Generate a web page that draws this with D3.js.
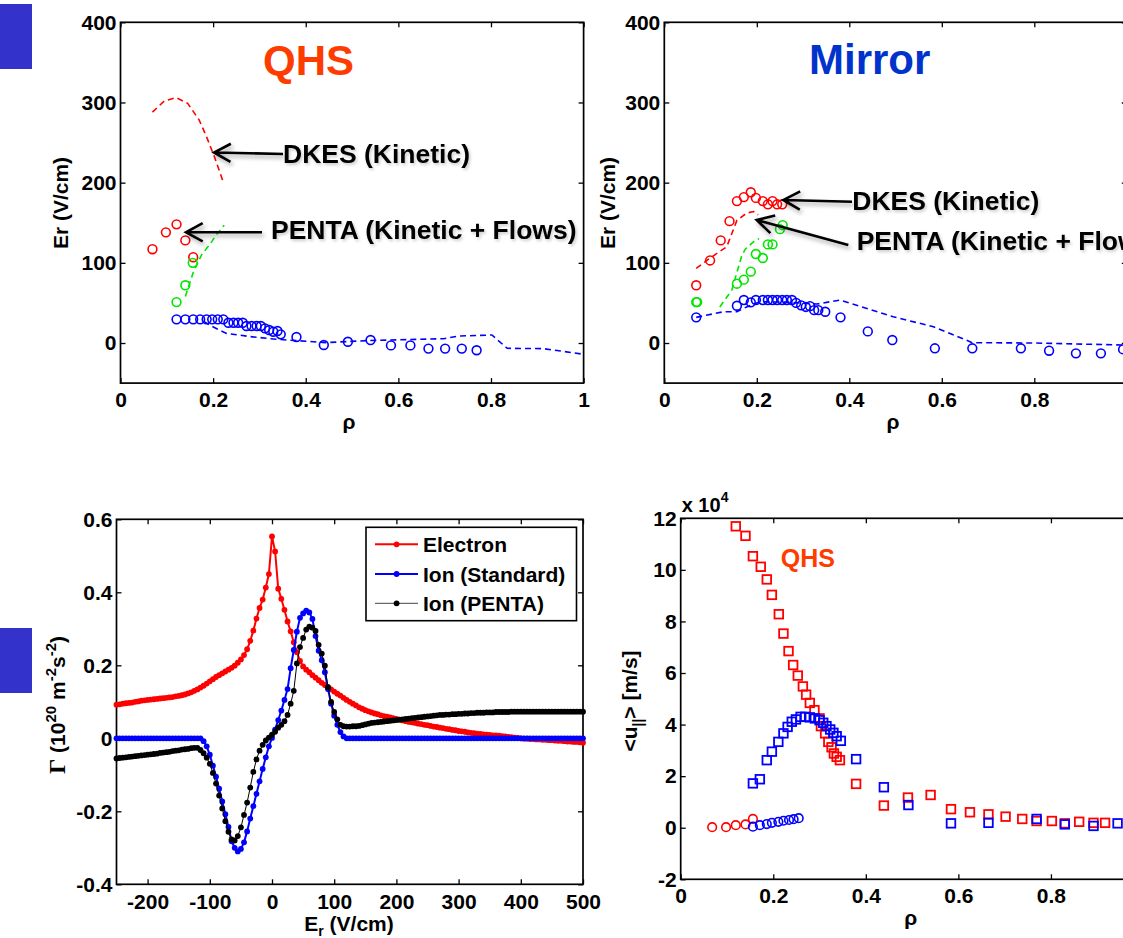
<!DOCTYPE html>
<html><head><meta charset="utf-8">
<script src="https://cdn.jsdelivr.net/npm/d3@7"></script>
<style>body{margin:0;background:#fff;} svg{display:block;}</style>
</head><body><svg id="c" width="1123" height="938"></svg>
<script>
// ---------------- Panel 1: QHS  Er vs rho ----------------
const qhsDkesRho = [0.069, 0.095, 0.120, 0.145, 0.170, 0.186, 0.203, 0.223];
const qhsDkesEr  = [288, 302, 306, 299, 278, 257, 232, 199];
const qhsRedRho = [0.069, 0.098, 0.121, 0.140, 0.157];
const qhsRedEr  = [117, 138, 148, 128, 107];
const qhsGreenRho = [0.121, 0.140, 0.156];
const qhsGreenEr  = [51, 72, 100];
const qhsGreenDashRho = [0.140, 0.157, 0.175, 0.193, 0.207, 0.224];
const qhsGreenDashEr  = [58, 88, 110, 123, 135, 147];
const qhsBlueRho = [0.121,0.140,0.157,0.172,0.186,0.198,0.210,0.222,0.233,0.244,0.254,0.264,0.272,0.283,0.294,0.303,0.312,0.321,0.330,0.339,0.346,0.380,0.439,0.491,0.540,0.584,0.626,0.665,0.701,0.737,0.769];
const qhsBlueEr  = [29.5,29.5,29.5,29.5,29.5,29.5,29.5,29.5,25.3,25.3,25.3,25.3,21.2,21.2,21.2,21.2,18.3,16.2,14.1,15,10.8,7.5,-2.5,1.6,3.7,-3,-3,-7,-7,-7,-9];
const qhsBlueDashRho = [0.180,0.193,0.229,0.280,0.337,0.380,0.442,0.533,0.698,0.731,0.802,0.835,0.913,0.996];
const qhsBlueDashEr  = [27,22,12,8,4.6,3,0.5,3,5.4,8.7,10,-6.6,-7,-13.7];

// ---------------- Panel 2: Mirror Er vs rho ----------------
const mirRedRho = [0.069,0.099,0.122,0.141,0.157,0.172,0.187,0.198,0.213,0.224,0.234,0.244,0.255];
const mirRedEr  = [72,103,128,152,177,182,188,181,177,173,177,173,173];
const mirRedDashRho = [0.069,0.099,0.135,0.149,0.157,0.178,0.193,0.203];
const mirRedDashEr  = [93,106,120,141,153,162,164,160];
const mirGreenRho = [0.069,0.071,0.157,0.172,0.187,0.198,0.213,0.224,0.234,0.250,0.256];
const mirGreenEr  = [51,51,74,79,89,111,106,123,123,142,147];
const mirGreenDashRho = [0.120,0.146,0.167,0.175,0.196,0.205];
const mirGreenDashEr  = [45,66,108,117,128,130];
const mirBlueRho = [0.069,0.157,0.172,0.187,0.198,0.213,0.224,0.234,0.244,0.255,0.265,0.276,0.285,0.296,0.306,0.315,0.324,0.333,0.348,0.381,0.440,0.493,0.585,0.666,0.771,0.832,0.890,0.944,0.992];
const mirBlueEr  = [32,46.5,53.6,50.7,53.6,53.6,53.6,53.6,53.6,53.6,53.6,53.6,50,47,45,46,41,41,39,32,14.5,3.7,-6.6,-6.6,-6.6,-9.6,-12.9,-12.9,-8];
const mirBlueDashRho = [0.069,0.128,0.157,0.178,0.207,0.260,0.330,0.380,0.495,0.582,0.666,0.800,0.991];
const mirBlueDashEr  = [32,39,39,45,51.5,51,48.6,53.6,32.8,20.3,0.4,0,-2.5];

// ---------------- Panel 3: Flux vs Er ----------------
const efield = [-250,-245,-240,-235,-230,-225,-220,-215,-210,-205,-200,-195,-190,-185,-180,-175,-170,-165,-160,-155,-150,-145,-140,-135,-130,-125,-120,-115,-110,-105,-100,-95,-90,-85,-80,-75,-70,-65,-60,-55,-50,-45,-40,-35,-30,-25,-20,-15,-10,-5,0,5,10,15,20,25,30,35,40,45,50,55,60,65,70,75,80,85,90,95,100,105,110,115,120,125,130,135,140,145,150,155,160,165,170,175,180,185,190,195,200,205,210,215,220,225,230,235,240,245,250,255,260,265,270,275,280,285,290,295,300,305,310,315,320,325,330,335,340,345,350,355,360,365,370,375,380,385,390,395,400,405,410,415,420,425,430,435,440,445,450,455,460,465,470,475,480,485,490,495,500];
const fluxElectron = [
 0.092,0.093,0.095,0.096,0.097,0.098,0.100,0.101,0.103,0.104,
 0.105,0.106,0.107,0.108,0.109,0.110,0.111,0.112,0.113,0.115,
 0.116,0.118,0.120,0.123,0.126,0.130,0.134,0.139,0.144,0.150,
 0.156,0.162,0.168,0.173,0.178,0.183,0.188,0.193,0.199,0.207,
 0.216,0.228,0.244,0.267,0.295,0.328,0.357,0.380,0.413,0.450,
 0.553,0.512,0.410,0.382,0.352,0.320,0.293,0.263,0.236,0.212,
 0.197,0.188,0.181,0.173,0.166,0.159,0.152,0.146,0.140,0.134,
 0.128,0.122,0.117,0.111,0.105,0.100,0.095,0.090,0.085,0.081,
 0.077,0.074,0.071,0.068,0.066,0.063,0.061,0.059,0.057,0.055,
 0.053,0.051,0.049,0.047,0.045,0.044,0.042,0.040,0.039,0.037,
 0.036,0.034,0.032,0.031,0.029,0.028,0.026,0.025,0.023,0.022,
 0.020,0.019,0.018,0.016,0.015,0.014,0.013,0.012,0.011,0.010,
 0.009,0.008,0.008,0.007,0.006,0.005,0.004,0.003,0.002,0.001,
 0.000,-0.001,-0.001,-0.002,-0.002,-0.003,-0.003,-0.004,-0.004,-0.005,
 -0.005,-0.006,-0.007,-0.007,-0.008,-0.009,-0.009,-0.010,-0.010,-0.011,
 -0.012];
const fluxIonStd = [
 0,0,0,0,0,0,0,0,0,0,
 0,0,0,0,0,0,0,0,0,0,
 0,0,0,0,0,0,0,0,-0.008,-0.022,
 -0.045,-0.075,-0.105,-0.138,-0.173,-0.208,-0.243,-0.282,-0.300,-0.310,
 -0.303,-0.285,-0.255,-0.220,-0.186,-0.152,-0.118,-0.084,-0.052,-0.022,
 0.001,0.024,0.050,0.076,0.105,0.135,0.192,0.242,0.292,0.330,
 0.342,0.350,0.345,0.327,0.280,0.240,0.214,0.181,0.135,0.095,
 0.062,0.037,0.017,0.005,0,0,0,0,0,0,
 0,0,0,0,0,0,0,0,0,0,
 0,0,0,0,0,0,0,0,0,0,
 0,0,0,0,0,0,0,0,0,0,
 0,0,0,0,0,0,0,0,0,0,
 0,0,0,0,0,0,0,0,0,0,
 0,0,0,0,0,0,0,0,0,0,
 0,0,0,0,0,0,0,0,0,0,
 0];
const fluxIonPenta = [
 -0.055,-0.054,-0.053,-0.052,-0.051,-0.050,-0.049,-0.048,-0.047,-0.046,
 -0.045,-0.044,-0.043,-0.042,-0.040,-0.039,-0.038,-0.037,-0.035,-0.034,
 -0.033,-0.031,-0.030,-0.029,-0.027,-0.026,-0.026,-0.032,-0.041,-0.053,
 -0.070,-0.095,-0.124,-0.157,-0.192,-0.227,-0.256,-0.277,-0.280,-0.268,
 -0.244,-0.210,-0.176,-0.135,-0.092,-0.058,-0.034,-0.018,-0.006,0.002,
 0.010,0.018,0.029,0.037,0.047,0.064,0.095,0.130,0.205,0.250,
 0.275,0.298,0.306,0.303,0.294,0.256,0.232,0.199,0.140,0.100,
 0.072,0.052,0.037,0.033,0.032,0.032,0.033,0.033,0.034,0.036,
 0.038,0.040,0.042,0.043,0.044,0.045,0.046,0.047,0.048,0.049,
 0.050,0.051,0.052,0.053,0.054,0.055,0.056,0.057,0.058,0.059,
 0.060,0.061,0.062,0.063,0.064,0.064,0.065,0.065,0.066,0.066,
 0.067,0.067,0.068,0.068,0.069,0.069,0.070,0.070,0.070,0.071,
 0.071,0.071,0.072,0.072,0.072,0.072,0.072,0.073,0.073,0.073,
 0.073,0.073,0.073,0.073,0.073,0.073,0.073,0.073,0.073,0.073,
 0.073,0.073,0.073,0.073,0.073,0.073,0.073,0.073,0.073,0.073,
 0.073];
const legendLabels = ["Electron", "Ion (Standard)", "Ion (PENTA)"];

// ---------------- Panel 4: parallel flow vs rho (units of 1e4 m/s) ----------------
const flowRedSqRho = [0.119,0.140,0.156,0.173,0.186,0.197,0.212,0.222,0.233,0.243,0.253,0.264,0.271,0.279,0.289,0.300,0.303,0.312,0.319,0.326,0.331,0.337,0.344,0.379,0.439,0.491,0.540,0.584,0.625,0.665,0.702,0.738,0.769,0.802,0.830,0.861,0.892,0.917];
const flowRedSqU   = [11.69,11.32,10.53,10.12,9.63,9.03,8.28,7.53,6.85,6.31,5.90,5.48,5.16,4.84,4.56,4.24,3.94,3.66,3.33,3.12,2.88,2.75,2.62,1.70,0.86,1.17,1.27,0.72,0.60,0.52,0.43,0.34,0.26,0.26,0.17,0.23,0.19,0.19];
const flowBlueSqRho = [0.156,0.171,0.186,0.197,0.211,0.222,0.231,0.240,0.249,0.259,0.269,0.279,0.290,0.300,0.308,0.315,0.323,0.330,0.337,0.346,0.379,0.439,0.492,0.584,0.665,0.769,0.830,0.892,0.944];
const flowBlueSqU   = [1.72,1.88,2.62,2.95,3.33,3.66,3.91,4.11,4.20,4.30,4.30,4.28,4.24,4.17,4.07,3.94,3.81,3.68,3.55,3.37,2.66,1.57,0.88,0.17,0.19,0.34,0.13,0.07,0.17];
const flowRedCircRho = [0.068,0.098,0.119,0.140,0.156];
const flowRedCircU   = [0.02,0.02,0.10,0.13,0.34];
const flowBlueCircRho = [0.156,0.171,0.186,0.197,0.211,0.222,0.234,0.244,0.255];
const flowBlueCircU   = [0.04,0.10,0.14,0.19,0.23,0.27,0.30,0.33,0.37];

// ---------------- Tick values ----------------
const rhoTicks = [0, 0.2, 0.4, 0.6, 0.8, 1];
const rhoTicksVisible = [0, 0.2, 0.4, 0.6, 0.8];   // right panels: the 1 falls past the window edge
const erTicks = [0, 100, 200, 300, 400];
const eTicks = [-200, -100, 0, 100, 200, 300, 400, 500];
const fluxTicks = [-0.4, -0.2, 0, 0.2, 0.4, 0.6];
const flowTicks = [-2, 0, 2, 4, 6, 8, 10, 12];

// ================= drawing =================
const FONT = "Arial, 'Liberation Sans', Helvetica, sans-serif";
const RED = "#ff0000", GREEN = "#00e600", BLUE = "#0000ff";
const svg = d3.select("#c");
const defs = svg.append("defs");
const f = defs.append("filter").attr("id","shadow").attr("x","-20%").attr("y","-40%").attr("width","140%").attr("height","180%");
f.append("feDropShadow").attr("dx",2).attr("dy",3).attr("stdDeviation",2).attr("flood-color","#000").attr("flood-opacity",0.35);
const f2 = defs.append("filter").attr("id","tshadow").attr("x","-10%").attr("y","-40%").attr("width","120%").attr("height","180%");
f2.append("feDropShadow").attr("dx",1.5).attr("dy",2).attr("stdDeviation",1.5).attr("flood-color","#000").attr("flood-opacity",0.2);

svg.append("rect").attr("width",1123).attr("height",938).attr("fill","#fff");
// decorative slide blocks
svg.append("rect").attr("x",0).attr("y",4).attr("width",32).attr("height",65).attr("fill","#3333cc");
svg.append("rect").attr("x",0).attr("y",628).attr("width",32).attr("height",65).attr("fill","#3333cc");

const fmt = d => String(+d.toFixed(1));
const TICKFS = 21;

function frame(x, y, xt, yt, xpad) {
  const g = svg.append("g");
  const [x0, x1] = x.range(); const [y0, y1] = y.range();
  const style = sel => {
    sel.attr("font-family", FONT).attr("font-size", TICKFS).attr("font-weight", "bold");
    sel.selectAll("path.domain").attr("stroke", "none");
    sel.selectAll(".tick line").attr("stroke", "#000").attr("stroke-width", 1.3);
    sel.selectAll(".tick text").attr("fill", "#000");
  };
  g.append("g").attr("transform", `translate(0,${y0})`)
    .call(d3.axisBottom(x).tickValues(xt).tickFormat(fmt).tickSize(-5).tickSizeOuter(0).tickPadding(xpad)).call(style);
  g.append("g").attr("transform", `translate(0,${y1})`)
    .call(d3.axisTop(x).tickValues(xt).tickFormat("").tickSize(-5).tickSizeOuter(0)).call(style);
  g.append("g").attr("transform", `translate(${x0},0)`)
    .call(d3.axisLeft(y).tickValues(yt).tickFormat(fmt).tickSize(-5).tickSizeOuter(0).tickPadding(4)).call(style);
  g.append("g").attr("transform", `translate(${x1},0)`)
    .call(d3.axisRight(y).tickValues(yt).tickFormat("").tickSize(-5).tickSizeOuter(0)).call(style);
  g.append("rect").attr("x", x0).attr("y", y1).attr("width", x1 - x0).attr("height", y0 - y1)
    .attr("fill", "none").attr("stroke", "#000").attr("stroke-width", 1.7);
  return g;
}
const zip = (a, b) => a.map((v, i) => [v, b[i]]);
function dashed(x, y, xs, ys, color) {
  svg.append("path").datum(zip(xs, ys))
    .attr("d", d3.line().x(d => x(d[0])).y(d => y(d[1])))
    .attr("fill", "none").attr("stroke", color).attr("stroke-width", 1.6).attr("stroke-dasharray", "6,4");
}
function circles(x, y, xs, ys, color, r) {
  svg.append("g").selectAll("circle").data(zip(xs, ys)).join("circle")
    .attr("cx", d => x(d[0])).attr("cy", d => y(d[1])).attr("r", r || 4.4)
    .attr("fill", "none").attr("stroke", color).attr("stroke-width", 1.6);
}
function squares(x, y, xs, ys, color) {
  const s = 8.6;
  svg.append("g").selectAll("rect").data(zip(xs, ys)).join("rect")
    .attr("x", d => x(d[0]) - s / 2).attr("y", d => y(d[1]) - s / 2).attr("width", s).attr("height", s)
    .attr("fill", "none").attr("stroke", color).attr("stroke-width", 1.8);
}
function arrow(x1, y1, x2, y2) {
  const a = Math.atan2(y1 - y2, x1 - x2), L = 19, sp = 0.5;
  const p = `M${x1},${y1}L${x2},${y2}M${x2 + L * Math.cos(a + sp)},${y2 + L * Math.sin(a + sp)}L${x2},${y2}L${x2 + L * Math.cos(a - sp)},${y2 + L * Math.sin(a - sp)}`;
  svg.append("path").attr("d", p).attr("fill", "none").attr("stroke", "#000").attr("stroke-width", 2.6)
    .attr("filter", "url(#shadow)");
}
function label(txt, x, y, size, color, anchor, rot) {
  const t = svg.append("text").attr("font-family", FONT).attr("font-weight", "bold").attr("font-size", size)
    .attr("fill", color || "#000").attr("text-anchor", anchor || "start").text(txt);
  if (rot) t.attr("transform", `translate(${x},${y}) rotate(-90)`); else t.attr("x", x).attr("y", y);
  return t;
}

// ---- Panel 1 ----
{
  const x = d3.scaleLinear().domain([0, 1]).range([120.5, 583.6]);
  const y = d3.scaleLinear().domain([-50, 400]).range([383.1, 22.3]);
  frame(x, y, rhoTicks, erTicks, 9);
  dashed(x, y, qhsDkesRho, qhsDkesEr, RED);
  dashed(x, y, qhsGreenDashRho, qhsGreenDashEr, GREEN);
  dashed(x, y, qhsBlueDashRho, qhsBlueDashEr, BLUE);
  circles(x, y, qhsRedRho, qhsRedEr, RED);
  circles(x, y, qhsGreenRho, qhsGreenEr, GREEN);
  circles(x, y, qhsBlueRho, qhsBlueEr, BLUE);
  label("QHS", 263, 75, 42, "#ff3c00");
  label("Er (V/cm)", 68, 203, 21, "#000", "middle", true);
  label("ρ", 349, 429, 21, "#000", "middle");
  arrow(283, 154, 214, 152.5);
  label("DKES (Kinetic)", 283, 163, 26.5).attr("filter", "url(#tshadow)");
  arrow(262, 232.3, 186, 232.3);
  label("PENTA (Kinetic + Flows)", 271, 238.5, 26.5).attr("filter", "url(#tshadow)");
}
// ---- Panel 2 ----
{
  const x = d3.scaleLinear().domain([0, 1]).range([664.3, 1126.8]);
  const y = d3.scaleLinear().domain([-50, 400]).range([383.1, 22.3]);
  frame(x, y, rhoTicksVisible, erTicks, 9);
  dashed(x, y, mirRedDashRho, mirRedDashEr, RED);
  dashed(x, y, mirGreenDashRho, mirGreenDashEr, GREEN);
  dashed(x, y, mirBlueDashRho, mirBlueDashEr, BLUE);
  circles(x, y, mirRedRho, mirRedEr, RED);
  circles(x, y, mirGreenRho, mirGreenEr, GREEN);
  circles(x, y, mirBlueRho, mirBlueEr, BLUE);
  label("Mirror", 809, 74, 42, "#0033cc");
  label("Er (V/cm)", 615, 203, 21, "#000", "middle", true);
  label("ρ", 893, 429, 21, "#000", "middle");
  arrow(852, 201.7, 783.3, 200);
  label("DKES (Kinetic)", 852.3, 210, 26.5).attr("filter", "url(#tshadow)");
  arrow(848.3, 245, 756.7, 220);
  label("PENTA (Kinetic + Flows)", 856.7, 250, 26.5).attr("filter", "url(#tshadow)");
}
// ---- Panel 3 ----
{
  const x = d3.scaleLinear().domain([-250, 500]).range([116.5, 583]);
  const y = d3.scaleLinear().domain([-0.4, 0.6]).range([884.3, 519.3]);
  frame(x, y, eTicks, fluxTicks, 10);
  const series = [
    { v: fluxElectron, c: RED, w: 2 },
    { v: fluxIonStd, c: BLUE, w: 2 },
    { v: fluxIonPenta, c: "#000", w: 1 }
  ];
  series.forEach(s => {
    const pts = zip(efield, s.v);
    svg.append("path").datum(pts).attr("d", d3.line().x(d => x(d[0])).y(d => y(d[1])))
      .attr("fill", "none").attr("stroke", s.c).attr("stroke-width", s.w);
    svg.append("g").selectAll("circle").data(pts).join("circle")
      .attr("cx", d => x(d[0])).attr("cy", d => y(d[1])).attr("r", 2.9).attr("fill", s.c);
  });
  // legend
  const lg = svg.append("g");
  lg.append("rect").attr("x", 366).attr("y", 527.3).attr("width", 210.5).attr("height", 93.4)
    .attr("fill", "#fff").attr("stroke", "#000").attr("stroke-width", 1.6);
  const rows = [544.3, 574, 603.3];
  series.forEach((s, i) => {
    lg.append("line").attr("x1", 375).attr("x2", 418).attr("y1", rows[i]).attr("y2", rows[i])
      .attr("stroke", s.c === "#000" ? "#444" : s.c).attr("stroke-width", s.w);
    lg.append("circle").attr("cx", 396.6).attr("cy", rows[i]).attr("r", 2.9).attr("fill", s.c);
    lg.append("text").attr("x", 423).attr("y", rows[i] + 7.5).attr("font-family", FONT)
      .attr("font-weight", "bold").attr("font-size", 21).text(legendLabels[i]);
  });
  // y label
  const yl = svg.append("text").attr("transform", "translate(65,705) rotate(-90)")
    .attr("text-anchor", "middle").attr("font-family", FONT).attr("font-weight", "bold").attr("font-size", 21);
  yl.append("tspan").attr("font-family", "'Times New Roman','Liberation Serif',serif").attr("font-size", 24).text("Γ");
  yl.append("tspan").text(" (10");
  yl.append("tspan").attr("font-size", 15).attr("dy", -9).text("20");
  yl.append("tspan").attr("dy", 9).text(" m");
  yl.append("tspan").attr("font-size", 15).attr("dy", -9).text("-2");
  yl.append("tspan").attr("dy", 9).text("s");
  yl.append("tspan").attr("font-size", 15).attr("dy", -9).text("-2");
  yl.append("tspan").attr("dy", 9).text(")");
  // x label
  const xl = svg.append("text").attr("x", 349).attr("y", 931).attr("text-anchor", "middle")
    .attr("font-family", FONT).attr("font-weight", "bold").attr("font-size", 21);
  xl.append("tspan").text("E");
  xl.append("tspan").attr("font-size", 14).attr("dy", 5).text("r");
  xl.append("tspan").attr("dy", -5).text(" (V/cm)");
}
// ---- Panel 4 ----
{
  const x = d3.scaleLinear().domain([0, 1]).range([680.7, 1143.5]);
  const y = d3.scaleLinear().domain([-2, 12]).range([879.3, 518.3]);
  frame(x, y, rhoTicksVisible, flowTicks, 9);
  squares(x, y, flowRedSqRho, flowRedSqU, RED);
  squares(x, y, flowBlueSqRho, flowBlueSqU, BLUE);
  circles(x, y, flowRedCircRho, flowRedCircU, RED, 4.3);
  circles(x, y, flowBlueCircRho, flowBlueCircU, BLUE, 4.3);
  label("QHS", 780.7, 566.7, 25, "#ff3c00");
  const ex = svg.append("text").attr("x", 681.7).attr("y", 511.7).attr("font-family", FONT)
    .attr("font-weight", "bold").attr("font-size", 20);
  ex.append("tspan").text("x 10");
  ex.append("tspan").attr("font-size", 14).attr("dy", -10).text("4");
  const yl = svg.append("text").attr("transform", "translate(637,701) rotate(-90)")
    .attr("text-anchor", "middle").attr("font-family", FONT).attr("font-weight", "bold").attr("font-size", 21);
  yl.append("tspan").text("<u");
  yl.append("tspan").attr("font-size", 14).attr("dy", 6).text("||");
  yl.append("tspan").attr("dy", -6).text(">  [m/s]");
  label("ρ", 910.7, 925, 21, "#000", "middle");
}
</script></body></html>
